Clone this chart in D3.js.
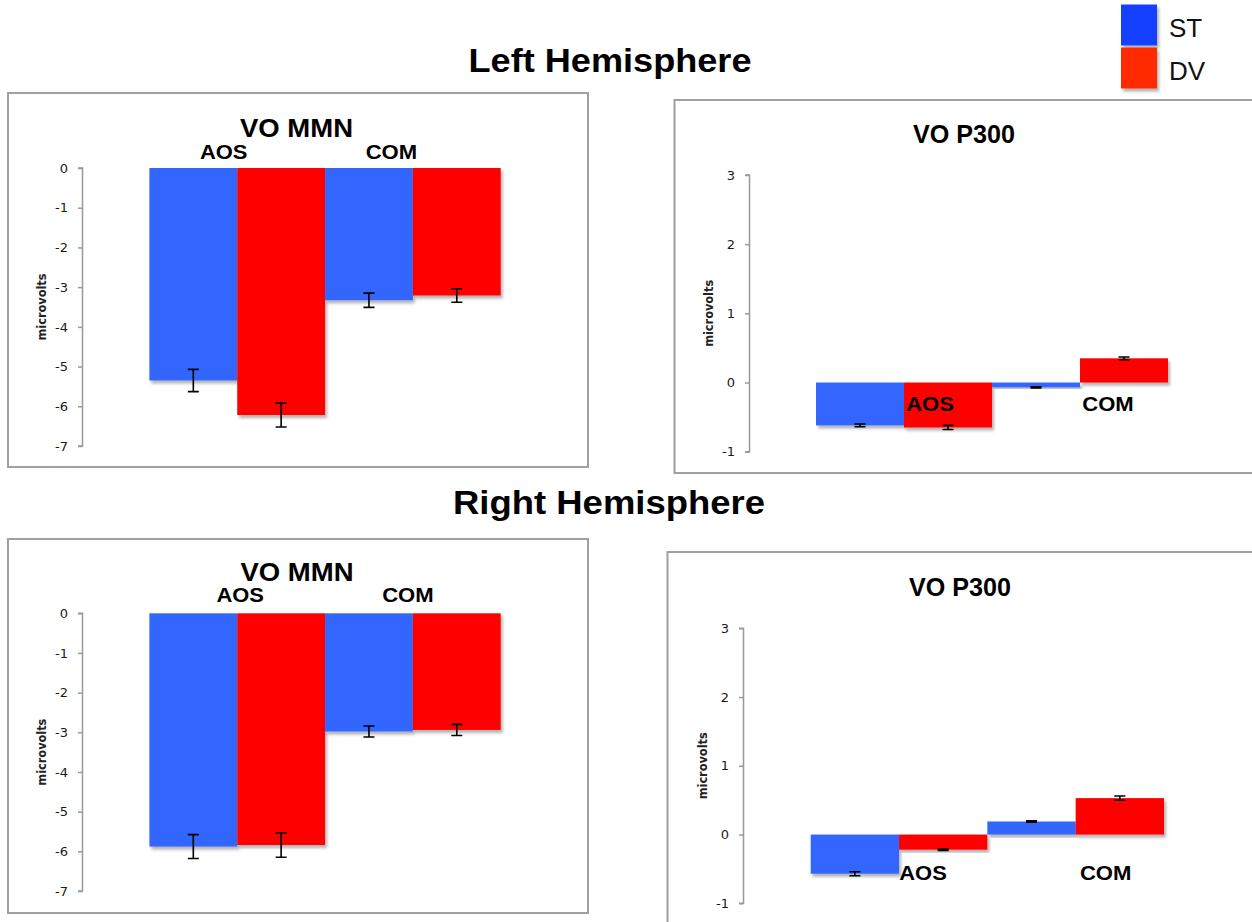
<!DOCTYPE html>
<html>
<head>
<meta charset="utf-8">
<script src="https://cdn.jsdelivr.net/npm/d3@7"></script>
<style>
  html, body { margin: 0; padding: 0; background: #fff; }
  svg { display: block; }
</style>
</head>
<body>
<svg id="chart" width="1252" height="922"></svg>
<script>
// ---- data ----
const categories = ["AOS", "COM"];
const seriesNames = ["ST", "DV"];
const seriesColors = ["#3366ff", "#ff0000"];
const legendColors = ["#1440ff", "#ff2a00"];

const mmnTicks = [0, -1, -2, -3, -4, -5, -6, -7];
const p300Ticks = [3, 2, 1, 0, -1];

// Left hemisphere, VO MMN (microvolts)
const leftMMN_ST = [-5.35, -3.33];
const leftMMN_DV = [-6.22, -3.21];
const leftMMN_ST_err = [0.28, 0.18];
const leftMMN_DV_err = [0.30, 0.17];

// Left hemisphere, VO P300
const leftP300_ST = [-0.62, -0.07];
const leftP300_DV = [-0.65, 0.35];
const leftP300_ST_err = [0.02, 0.01];
const leftP300_DV_err = [0.03, 0.02];

// Right hemisphere, VO MMN
const rightMMN_ST = [-5.88, -2.98];
const rightMMN_DV = [-5.84, -2.94];
const rightMMN_ST_err = [0.30, 0.14];
const rightMMN_DV_err = [0.31, 0.14];

// Right hemisphere, VO P300
const rightP300_ST = [-0.57, 0.19];
const rightP300_DV = [-0.22, 0.53];
const rightP300_ST_err = [0.03, 0.01];
const rightP300_DV_err = [0.01, 0.03];

// ---- layout ----
const panels = [
  { title: "VO MMN", st: leftMMN_ST, dv: leftMMN_DV, stErr: leftMMN_ST_err, dvErr: leftMMN_DV_err,
    ticks: mmnTicks, domain: [-7, 0], yRange: [446, 168], xRange: [149.4, 500.7], axisX: 82.5,
    frame: [8, 93, 588, 467], titleX: 296.5, titleY: 137, titleW: 113,
    labelY: 158.5, labelDx: [-13.5, -21.5], ylabelX: 42 },
  { title: "VO P300", st: leftP300_ST, dv: leftP300_DV, stErr: leftP300_ST_err, dvErr: leftP300_DV_err,
    ticks: p300Ticks, domain: [-1, 3], yRange: [451.7, 175], xRange: [816, 1168], axisX: 749.5,
    frame: [674.5, 100, 1262, 473], titleX: 964, titleY: 143, titleW: 102,
    labelY: 410.5, labelDx: [26, 28], ylabelX: 709 },
  { title: "VO MMN", st: rightMMN_ST, dv: rightMMN_DV, stErr: rightMMN_ST_err, dvErr: rightMMN_DV_err,
    ticks: mmnTicks, domain: [-7, 0], yRange: [891, 613.3], xRange: [149.4, 500.7], axisX: 82.5,
    frame: [8, 539, 588, 913], titleX: 297, titleY: 581, titleW: 113,
    labelY: 602, labelDx: [3, -5], ylabelX: 42 },
  { title: "VO P300", st: rightP300_ST, dv: rightP300_DV, stErr: rightP300_ST_err, dvErr: rightP300_DV_err,
    ticks: p300Ticks, domain: [-1, 3], yRange: [903.3, 628.3], xRange: [810.7, 1164], axisX: 743.5,
    frame: [667.5, 552, 1262, 940], titleX: 960, titleY: 596, titleW: 102,
    labelY: 880, labelDx: [24, 30], ylabelX: 702.5 }
];

// rendered widths of the bold category labels
const labelWidths = { AOS: 47.5, COM: 51.5 };

const svg = d3.select("#chart");

// soft shadow under bars and legend swatches
const defs = svg.append("defs");
const shadow = defs.append("filter").attr("id", "barShadow")
  .attr("x", "-10%").attr("y", "-10%").attr("width", "130%").attr("height", "130%");
shadow.append("feDropShadow").attr("dx", 2).attr("dy", 3).attr("stdDeviation", 1.8)
  .attr("flood-color", "#000").attr("flood-opacity", 0.3);

const boldFont = "'Liberation Sans', Arial, Helvetica, sans-serif";
const axisFont = "'DejaVu Sans', 'Lucida Grande', sans-serif";

// hemisphere headings
const headings = [
  { text: "Left Hemisphere", x: 610, y: 72, w: 283 },
  { text: "Right Hemisphere", x: 609, y: 513.5, w: 312 }
];
svg.selectAll("text.heading").data(headings).join("text")
  .attr("class", "heading")
  .attr("x", d => d.x).attr("y", d => d.y)
  .attr("text-anchor", "middle")
  .attr("textLength", d => d.w).attr("lengthAdjust", "spacingAndGlyphs")
  .style("font-family", boldFont)
  .style("font-weight", "bold").style("font-size", "33px").attr("fill", "#000")
  .text(d => d.text);

panels.forEach(p => {
  const g = svg.append("g");
  const [fx0, fy0, fx1, fy1] = p.frame;
  g.append("rect").attr("x", fx0).attr("y", fy0)
    .attr("width", fx1 - fx0).attr("height", fy1 - fy0)
    .attr("fill", "#fff").attr("stroke", "#a0a0a0").attr("stroke-width", 2);

  const y = d3.scaleLinear().domain(p.domain).range(p.yRange);
  const x = d3.scaleBand().domain(categories).range(p.xRange).padding(0);
  const xs = d3.scaleBand().domain(seriesNames).range([0, x.bandwidth()]).padding(0);

  // y axis
  const axis = d3.axisLeft(y).tickValues(p.ticks).tickSize(4.5).tickPadding(10)
    .tickFormat(d => String(d));
  const ag = g.append("g").attr("transform", `translate(${p.axisX},0)`).call(axis);
  ag.select(".domain").attr("stroke", "#999").attr("stroke-width", 1.5)
    .attr("d", `M-4.5,${p.yRange[1]}H0V${p.yRange[0]}H-4.5`);
  ag.selectAll(".tick line").attr("stroke", "#999").attr("stroke-width", 1.5);
  ag.selectAll(".tick text")
    .style("font-family", axisFont)
    .style("font-size", "13px").attr("fill", "#1a1a1a");

  // axis title
  const yMid = (p.yRange[0] + p.yRange[1]) / 2;
  g.append("text")
    .attr("transform", `translate(${p.ylabelX},${yMid}) rotate(-90)`)
    .attr("text-anchor", "middle").attr("dominant-baseline", "central")
    .attr("textLength", 67).attr("lengthAdjust", "spacingAndGlyphs")
    .style("font-family", axisFont)
    .style("font-weight", "bold").style("font-size", "12px").attr("fill", "#222")
    .text("microvolts");

  // bars
  const rows = [];
  categories.forEach((c, i) => {
    rows.push({ cat: c, s: "ST", v: p.st[i], e: p.stErr[i], color: seriesColors[0] });
    rows.push({ cat: c, s: "DV", v: p.dv[i], e: p.dvErr[i], color: seriesColors[1] });
  });
  const bx = d => x(d.cat) + xs(d.s);
  g.append("g").selectAll("rect").data(rows).join("rect")
    .attr("x", bx)
    .attr("y", d => Math.min(y(d.v), y(0)))
    .attr("width", xs.bandwidth())
    .attr("height", d => Math.abs(y(d.v) - y(0)))
    .attr("fill", d => d.color)
    .attr("filter", "url(#barShadow)");

  // category labels
  g.append("g").selectAll("text").data(categories).join("text")
    .attr("x", (c, i) => x(c) + x.bandwidth() / 2 + p.labelDx[i])
    .attr("y", p.labelY)
    .attr("text-anchor", "middle")
    .attr("textLength", c => labelWidths[c]).attr("lengthAdjust", "spacingAndGlyphs")
    .style("font-family", boldFont)
    .style("font-weight", "bold").style("font-size", "20px").attr("fill", "#000")
    .text(c => c);

  // error bars
  const eb = g.append("g").attr("stroke", "#000").attr("stroke-width", 1.6).attr("fill", "none");
  const cap = 5.5;
  rows.forEach(d => {
    const cx = bx(d) + xs.bandwidth() / 2;
    const y1 = y(d.v - d.e), y2 = y(d.v + d.e);
    eb.append("path").attr("d",
      `M${cx},${y1}V${y2}M${cx - cap},${y1}H${cx + cap}M${cx - cap},${y2}H${cx + cap}`);
  });

  // panel title
  g.append("text").attr("x", p.titleX).attr("y", p.titleY)
    .attr("text-anchor", "middle")
    .attr("textLength", p.titleW).attr("lengthAdjust", "spacingAndGlyphs")
    .style("font-family", boldFont)
    .style("font-weight", "bold").style("font-size", "26px").attr("fill", "#000")
    .text(p.title);
});

// legend
const legend = svg.append("g");
const swatchY = [4.5, 47.5];
legend.selectAll("rect").data(seriesNames).join("rect")
  .attr("x", 1121).attr("y", (d, i) => swatchY[i])
  .attr("width", 36).attr("height", 41)
  .attr("fill", (d, i) => legendColors[i])
  .attr("filter", "url(#barShadow)");
legend.selectAll("text").data(seriesNames).join("text")
  .attr("x", 1169).attr("y", (d, i) => swatchY[i] + 32.5)
  .style("font-family", "'Liberation Sans', Arial, sans-serif")
  .style("font-size", "26px").attr("fill", "#111")
  .text(d => d);
</script>
</body>
</html>
